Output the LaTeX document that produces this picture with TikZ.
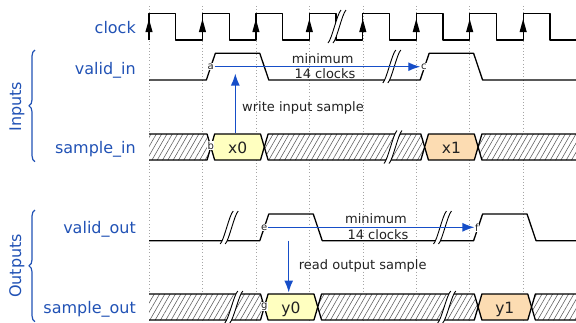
\documentclass[tikz,border=0pt]{standalone}
\usepackage{fontspec}
\setmainfont{DejaVu Sans}
\usetikzlibrary{patterns.meta,decorations.pathreplacing,arrows.meta}
\definecolor{lblue}{RGB}{33,82,181}
\definecolor{ablue}{RGB}{22,78,200}
\definecolor{tdark}{RGB}{34,34,34}
\definecolor{dyellow}{RGB}{255,255,192}
\definecolor{dorange}{RGB}{252,220,178}
\definecolor{gridgray}{RGB}{165,165,165}
% inner bus segment: #1 left crossing, #2 right crossing, #3 top, #4 bottom, #5 options
\newcommand\busseg[5]{%
  \pgfmathsetmacro\bmid{(#3+#4)/2}%
  \path[#5] (#1+3.8,#3) -- (#2-3.8,#3) -- (#2,\bmid) -- (#2-3.8,#4) -- (#1+3.8,#4) -- (#1,\bmid) -- cycle;%
}
% break mark: #1 centre x, #2 top y, #3 bottom y
\newcommand\sigbreak[3]{%
  \path[fill=white] (#1-9,#3) .. controls (#1-5,#3-4) and (#1,#2+4) .. (#1+4,#2)
     -- (#1+9,#2) .. controls (#1+5,#2+4) and (#1,#3-4) .. (#1-4,#3) -- cycle;%
  \draw[brkline] (#1-9,#3) .. controls (#1-5,#3-4) and (#1,#2+4) .. (#1+4,#2);%
  \draw[brkline] (#1-4,#3) .. controls (#1,#3-4) and (#1+5,#2+4) .. (#1+9,#2);%
}
\begin{document}
\begin{tikzpicture}[x=1pt,y=-1pt,
  sig/.style={line width=1.3pt,black,line join=round},
  hatch/.style={preaction={fill=white},pattern={Lines[angle=60,distance=4.6pt,line width=0.55pt]},pattern color=black!65},
  gridln/.style={gridgray,line width=0.6pt,dash pattern=on 0.8pt off 2.4pt},
  brkline/.style={black,line width=0.9pt},
  lbl/.style={text=lblue,font=\fontsize{16}{19}\selectfont,inner sep=0pt},
  note/.style={text=tdark,font=\fontsize{13}{15}\selectfont,inner sep=0pt},
  tag/.style={text=tdark,font=\fontsize{10}{11}\selectfont,fill=white,inner sep=0.6pt},
  datatxt/.style={text=tdark,font=\fontsize{15.5}{18}\selectfont,inner sep=0pt},
  barrow/.style={ablue,line width=1.3pt,-{Latex[length=12pt,width=9pt]}},
  brc/.style={lblue,line width=1.2pt,decorate,decoration={brace,amplitude=6pt}}
]
\useasboundingbox (0,0) rectangle (576,322);

% grid
\foreach \gx in {149,202.45,255.9,309.35,362.8,416.25,469.7,523.15}
  \draw[gridln] (\gx,6) -- (\gx,322);

% clock
\draw[sig] (149,40) -- (149,13.3) -- (175.725,13.3) -- (175.725,40) -- (202.45,40) -- (202.45,13.3)
  -- (229.175,13.3) -- (229.175,40) -- (255.9,40) -- (255.9,13.3) -- (282.625,13.3) -- (282.625,40)
  -- (309.35,40) -- (309.35,13.3) -- (336.075,13.3) -- (336.075,40) -- (362.8,40) -- (362.8,13.3)
  -- (389.525,13.3) -- (389.525,40) -- (416.25,40) -- (416.25,13.3) -- (442.975,13.3) -- (442.975,40)
  -- (469.7,40) -- (469.7,13.3) -- (496.425,13.3) -- (496.425,40) -- (523.15,40) -- (523.15,13.3)
  -- (549.875,13.3) -- (549.875,40) -- (576,40);
\foreach \gx in {149,202.45,255.9,309.35,362.8,416.25,469.7,523.15}
  \fill (\gx,19) -- (\gx-3.6,32) -- (\gx+3.6,32) -- cycle;

% valid_in
\draw[sig] (149,80) -- (206.35,80) -- (215.35,53.3) -- (259.8,53.3) -- (268.8,80) -- (420.15,80)
  -- (429.15,53.3) -- (473.6,53.3) -- (482.6,80) -- (576,80);

% sample_in
\path[hatch] (149,134) -- (207.05,134) -- (210.85,147) -- (207.05,160) -- (149,160) -- cycle;
\draw[sig] (149,134) -- (207.05,134) -- (210.85,147) -- (207.05,160) -- (149,160);
\busseg{210.85}{264.3}{134}{160}{sig,draw,fill=dyellow}
\busseg{264.3}{424.65}{134}{160}{hatch}
\busseg{264.3}{424.65}{134}{160}{sig,draw}
\busseg{424.65}{478.1}{134}{160}{sig,draw,fill=dorange}
\path[hatch] (576,134) -- (481.9,134) -- (478.1,147) -- (481.9,160) -- (576,160) -- cycle;
\draw[sig] (576,134) -- (481.9,134) -- (478.1,147) -- (481.9,160) -- (576,160);

% valid_out
\draw[sig] (149,240.7) -- (259.8,240.7) -- (268.8,214) -- (313.25,214) -- (322.25,240.7) -- (473.6,240.7)
  -- (482.6,214) -- (527.05,214) -- (536.05,240.7) -- (576,240.7);

% sample_out
\path[hatch] (149,294) -- (260.5,294) -- (264.3,307) -- (260.5,320) -- (149,320) -- cycle;
\draw[sig] (149,294) -- (260.5,294) -- (264.3,307) -- (260.5,320) -- (149,320);
\busseg{264.3}{317.75}{294}{320}{sig,draw,fill=dyellow}
\busseg{317.75}{478.1}{294}{320}{hatch}
\busseg{317.75}{478.1}{294}{320}{sig,draw}
\busseg{478.1}{531.55}{294}{320}{sig,draw,fill=dorange}
\path[hatch] (576,294) -- (535.35,294) -- (531.55,307) -- (535.35,320) -- (576,320) -- cycle;
\draw[sig] (576,294) -- (535.35,294) -- (531.55,307) -- (535.35,320) -- (576,320);

% breaks
\sigbreak{337}{10}{43}
\sigbreak{391.8}{50}{83}
\sigbreak{393}{130.5}{163.5}
\sigbreak{229.2}{211}{244}
\sigbreak{233.8}{291}{323}
\sigbreak{442.5}{211}{244}
\sigbreak{446.7}{291}{323}

% data labels
\node[datatxt,anchor=base] (x0) at (237.6,153.3) {x0};
\node[datatxt,anchor=base] (x1) at (451.4,153.3) {x1};
\node[datatxt,anchor=base] (y0) at (291,313.3) {y0};
\node[datatxt,anchor=base] (y1) at (504.8,313.3) {y1};

% tags
\node[tag] (a) at (210.7,66.7) {a};
\node[tag] (b) at (210.7,145.5) {b};
\node[tag] (c) at (423.8,66.7) {c};
\node[tag] (e) at (264.3,227.3) {e};
\node[tag] (f) at (477,227.3) {f};
\node[tag] (g) at (264.3,306.7) {g};

% arrows
\draw[barrow] (a.east) -- (c.west);
\draw[barrow] (e.east) -- (e.east -| f.west);
\coordinate (w1) at (235.3,133);
\coordinate (w2) at (235.3,73.5);
\coordinate (r1) at (288.7,240.7);
\coordinate (r2) at (288.7,292.5);
\draw[barrow] (w1) -- (w2);
\draw[barrow] (r1) -- (r2);

% notes
\node[note,anchor=base] (m1) at (322.7,63.3) {minimum};
\node[note,anchor=base] (k1) at (325,78.5) {14 clocks};
\node[note,anchor=base] (m2) at (376,223.3) {minimum};
\node[note,anchor=base] (k2) at (378,239) {14 clocks};
\node[note,anchor=base west] (wr) at (242,111) {write input sample};
\node[note,anchor=base west] (rd) at (298.7,269.3) {read output sample};

% signal names
\node[lbl,anchor=base east] (nclk) at (136,33.3) {clock};
\node[lbl,anchor=base east] (nvi) at (136,74.3) {valid\_in};
\node[lbl,anchor=base east] (nsi) at (136,153.3) {sample\_in};
\node[lbl,anchor=base east] (nvo) at (136,233.3) {valid\_out};
\node[lbl,anchor=base east] (nso) at (136,313.3) {sample\_out};

% groups
\draw[brc] (35,161.7) -- (35,50);
\draw[brc] (35,321.7) -- (35,210);
\node[lbl,rotate=90,anchor=base] (gin) at (21,106.7) {Inputs};
\node[lbl,rotate=90,anchor=base] (gout) at (21,266) {Outputs};
\end{tikzpicture}
\end{document}
